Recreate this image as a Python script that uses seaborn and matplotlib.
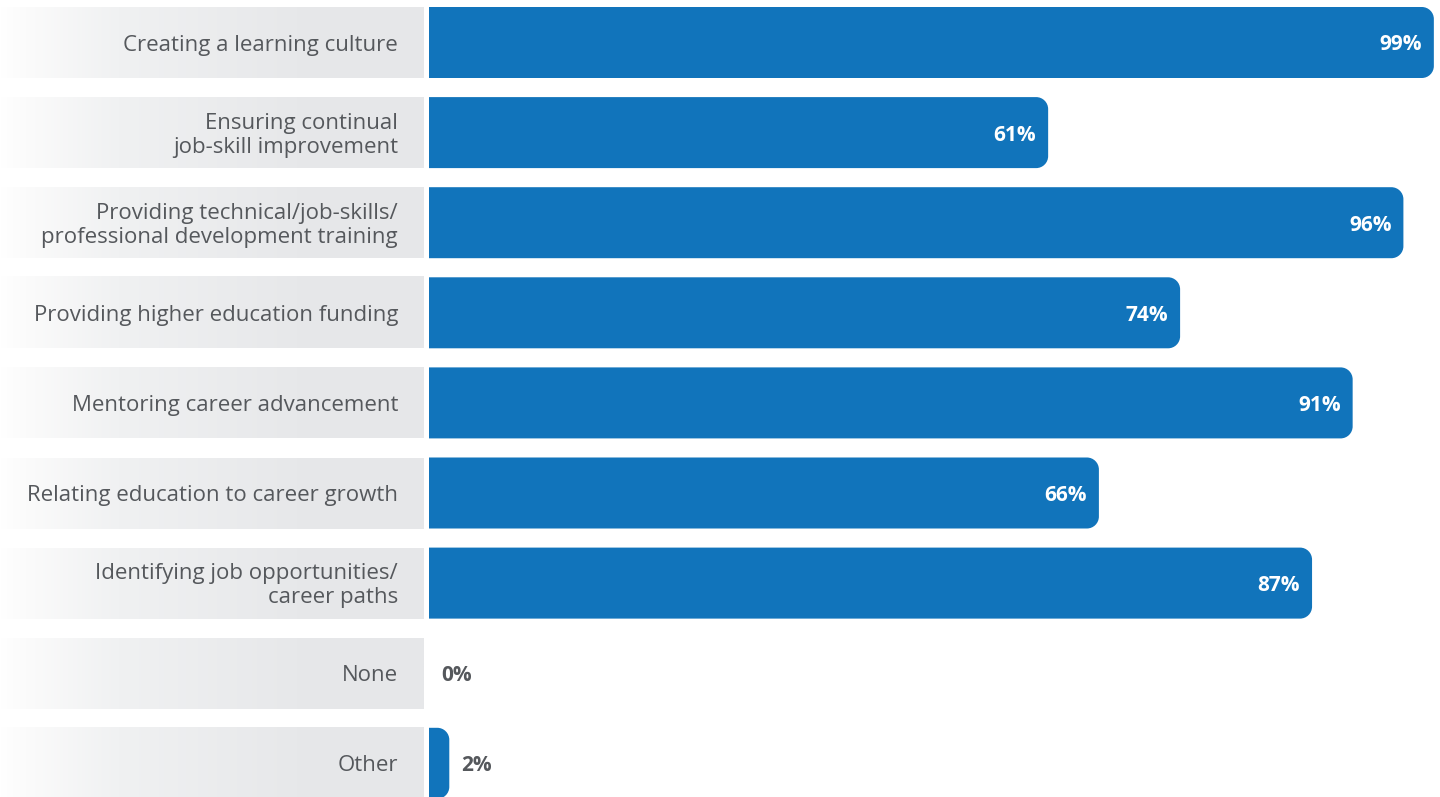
import numpy as np
import matplotlib
matplotlib.use("Agg")
import matplotlib.pyplot as plt
from matplotlib.path import Path
from matplotlib.patches import PathPatch
from matplotlib.colors import LinearSegmentedColormap
import seaborn as sns

categories = [
    "Creating a learning culture",
    "Ensuring continual\njob-skill improvement",
    "Providing technical/job-skills/\nprofessional development training",
    "Providing higher education funding",
    "Mentoring career advancement",
    "Relating education to career growth",
    "Identifying job opportunities/\ncareer paths",
    "None",
    "Other",
]
values = [99, 61, 96, 74, 91, 66, 87, 0, 2]
value_labels = ["99%", "61%", "96%", "74%", "91%", "66%", "87%", "0%", "2%"]

BLUE = "#1174bb"
TEXT = "#55585c"

sns.set_theme(style="white")
plt.rcParams["font.family"] = ["Open Sans", "DejaVu Sans"]

W, H = 1440, 797
fig = plt.figure(figsize=(W / 100, H / 100), dpi=100)

row_pitch = 90.1
first_center = 42.5
ylim = ((H - first_center) / row_pitch, -first_center / row_pitch)
bar_h = 71 / row_pitch
text_dy = 2.5 / row_pitch

# Label panel with horizontal gray gradient boxes
lab_w = 424
ax_lab = fig.add_axes([0, 0, lab_w / W, 1])
grad_cmap = LinearSegmentedColormap.from_list(
    "lab", [(0.0, "#ffffff"), (0.06, "#fbfbfb"), (0.28, "#f0f1f2"),
            (0.7, "#e7e8ea"), (1.0, "#e6e7e9")]
)
grad = np.linspace(0, 1, 256).reshape(1, -1)
for i, cat in enumerate(categories):
    ax_lab.imshow(grad, cmap=grad_cmap, aspect="auto",
                  extent=[0, lab_w, i + bar_h / 2, i - bar_h / 2], zorder=1)
    ax_lab.text(398, i + text_dy, cat, ha="right", va="center", fontsize=16,
                color=TEXT, linespacing=1.2, zorder=2)
ax_lab.set_xlim(0, lab_w)
ax_lab.set_ylim(*ylim)
ax_lab.axis("off")

# Bar panel
x0_px = 429
px_per_unit = 10.15
ax = fig.add_axes([x0_px / W, 0, (W - x0_px) / W, 1])
sns.barplot(x=values, y=categories, orient="h", color=BLUE, saturation=1,
            width=bar_h, ax=ax, order=categories)
ax.set_xlim(0, (W - x0_px) / px_per_unit)
ax.set_ylim(*ylim)
ax.axis("off")

# Replace square bars with bars rounded on the right side
r_px = 12
k = 0.5523
for patch in list(ax.patches):
    bx, by = patch.get_x(), patch.get_y()
    bw, bh = patch.get_width(), patch.get_height()
    patch.set_visible(False)
    if bw <= 0:
        continue
    xa, xb = bx, bx + bw
    ya, yb = by, by + bh
    rx = min(r_px / px_per_unit, bw)
    ry = r_px / row_pitch
    verts = [
        (xa, ya), (xb - rx, ya),
        (xb - rx + k * rx, ya), (xb, ya + ry - k * ry), (xb, ya + ry),
        (xb, yb - ry),
        (xb, yb - ry + k * ry), (xb - rx + k * rx, yb), (xb - rx, yb),
        (xa, yb), (xa, ya),
    ]
    codes = [Path.MOVETO, Path.LINETO,
             Path.CURVE4, Path.CURVE4, Path.CURVE4,
             Path.LINETO,
             Path.CURVE4, Path.CURVE4, Path.CURVE4,
             Path.LINETO, Path.CLOSEPOLY]
    ax.add_patch(PathPatch(Path(verts, codes), facecolor=BLUE,
                           edgecolor="none", zorder=2))

pad = 12 / px_per_unit
for i, (v, lbl) in enumerate(zip(values, value_labels)):
    if v >= 10:
        ax.text(v - pad, i + text_dy, lbl, ha="right", va="center",
                fontsize=15, fontweight="bold", color="white", zorder=3)
    else:
        ax.text(v + pad, i + text_dy, lbl, ha="left", va="center",
                fontsize=15, fontweight="bold", color=TEXT, zorder=3)

fig.savefig("out.png", dpi=100, facecolor="white")
